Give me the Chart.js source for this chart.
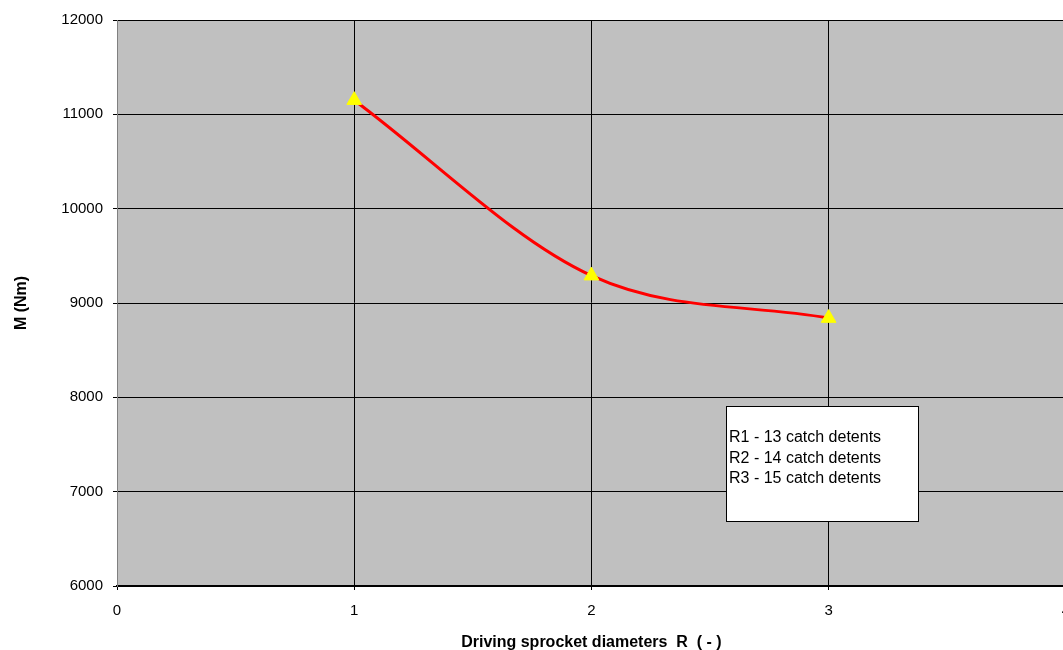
<!DOCTYPE html>
<html>
<head>
<meta charset="utf-8">
<script src="https://cdn.jsdelivr.net/npm/chart.js@4"></script>
<style>
  html, body { margin: 0; padding: 0; background: #fff; overflow: hidden; }
  #wrap { width: 1082px; height: 650px; }
</style>
</head>
<body>
<div id="wrap"><canvas id="momentChart"></canvas></div>
<script>
// Data
const sprocket = [1, 2, 3];
const moment = [11150, 9290, 8840];
const noteLines = ['R1 - 13 catch detents', 'R2 - 14 catch detents', 'R3 - 15 catch detents'];

const FONT = '"Liberation Sans", Arial, sans-serif';

// White note box, placed in data units
const noteBox = {
    id: 'noteBox',
    afterDatasetsDraw(chart) {
        const { ctx, scales: { x, y } } = chart;
        const x0 = Math.round(x.getPixelForValue(2.566)), x1 = Math.round(x.getPixelForValue(3.375));
        const y0 = Math.round(y.getPixelForValue(7908)), y1 = Math.round(y.getPixelForValue(6689));
        ctx.save();
        ctx.fillStyle = '#fff';
        ctx.fillRect(x0, y0, x1 - x0, y1 - y0);
        ctx.strokeStyle = '#000';
        ctx.lineWidth = 1;
        ctx.strokeRect(x0 + 0.5, y0 + 0.5, x1 - x0, y1 - y0);
        ctx.fillStyle = '#000';
        ctx.font = '16px ' + FONT;
        ctx.textBaseline = 'middle';
        noteLines.forEach((t, i) => ctx.fillText(t, x0 + 3, y0 + 32 + i * 20.5));
        ctx.restore();
    }
};

// Grey plot background with a grey frame
const plotBg = {
    id: 'plotBg',
    beforeDraw(chart) {
        const { ctx, chartArea: a } = chart;
        ctx.save();
        ctx.fillStyle = '#C0C0C0';
        ctx.fillRect(a.left, a.top, a.right - a.left, a.bottom - a.top);
        ctx.strokeStyle = '#808080';
        ctx.lineWidth = 1;
        ctx.strokeRect(a.left + 0.5, a.top + 0.5, a.right - a.left, a.bottom - a.top);
        ctx.restore();
    }
};

const ctx = document.getElementById('momentChart').getContext('2d');
const momentChart = new Chart(ctx, {
    type: 'line',
    data: {
        datasets: [{
            data: sprocket.map((v, i) => ({ x: v, y: moment[i] })),
            borderColor: '#FF0000',
            borderWidth: 3,
            cubicInterpolationMode: 'monotone',
            pointStyle: 'triangle',
            pointRadius: 8.5,
            pointBackgroundColor: '#FFFF00',
            pointBorderColor: '#FFFF00',
            pointBorderWidth: 1,
            fill: false
        }]
    },
    options: {
        responsive: true,
        maintainAspectRatio: false,
        animation: false,
        layout: { padding: { top: 20, right: 0, left: 0, bottom: 0 } },
        plugins: { legend: { display: false }, tooltip: { enabled: false } },
        scales: {
            x: {
                type: 'linear',
                min: 0, max: 4,
                ticks: { stepSize: 1, color: '#000', font: { family: FONT, size: 15 }, padding: 12 },
                grid: { color: '#000', lineWidth: 1, drawTicks: true, tickLength: 4, tickColor: '#000' },
                border: { color: '#000', width: 2 },
                title: { display: true, text: 'Driving sprocket diameters  R  ( - )', color: '#000',
                         font: { family: FONT, size: 16, weight: 'bold' }, padding: { top: 0, bottom: -2 } },
                afterFit(s) { s.height = 64; }
            },
            y: {
                min: 6000, max: 12000,
                ticks: { stepSize: 1000, color: '#000', font: { family: FONT, size: 15 }, padding: 10,
                         callback: v => String(v) },
                grid: { color: '#000', lineWidth: 1, drawTicks: true, tickLength: 4, tickColor: '#000' },
                border: { color: '#808080', width: 1 },
                title: { display: true, text: 'M (Nm)', color: '#000',
                         font: { family: FONT, size: 16, weight: 'bold' }, padding: { top: 12, bottom: 0 } },
                afterFit(s) { s.width = 117; }
            }
        }
    },
    plugins: [plotBg, noteBox]
});
</script>
</body>
</html>
